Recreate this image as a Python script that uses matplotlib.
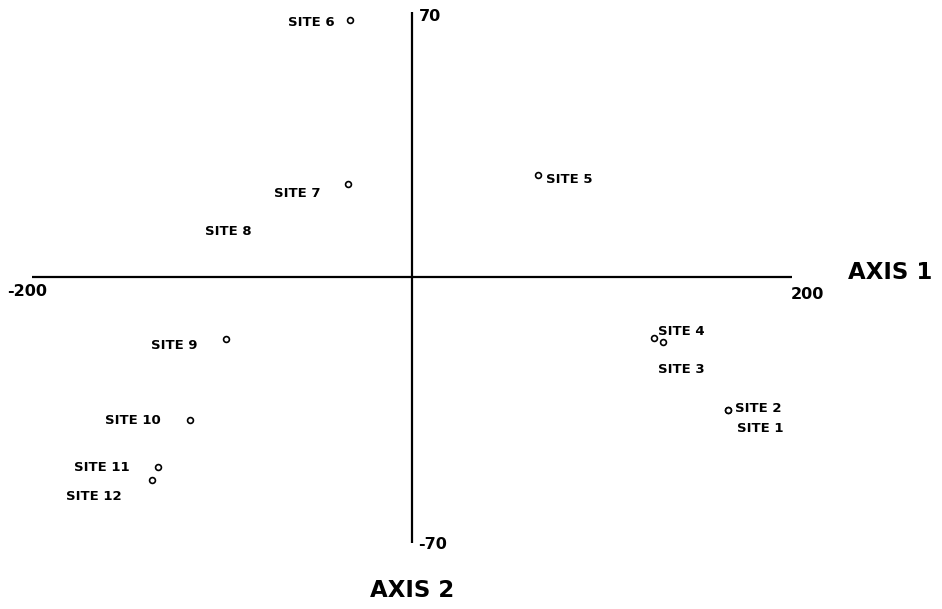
import matplotlib
matplotlib.use("Agg")
import matplotlib.pyplot as plt

# Ordination scores of the twelve sites on the first two axes
sites = ["SITE 1", "SITE 2", "SITE 3", "SITE 4", "SITE 5", "SITE 6",
         "SITE 7", "SITE 8", "SITE 9", "SITE 10", "SITE 11", "SITE 12"]
axis1 = [166.1, 166.1, 131.8, 127.1, 66.1, -32.9,
         -33.9, -77.0, -98.2, -117.1, -134.0, -137.1]
axis2 = [-35.0, -35.0, -17.0, -16.0, 27.0, 67.9,
         24.7, 13.0, -16.2, -37.6, -50.0, -53.4]
# site 8 is labelled without a symbol
show_marker = [True, True, True, True, True, True,
               True, False, True, True, True, True]

x_range = (-200, 200)
y_range = (-70, 70)

# label placement: (dx, dy) in pixels from the point, horizontal alignment
label_style = {
    "SITE 1": (9, -18, "left"),
    "SITE 2": (7, 2, "left"),
    "SITE 3": (-5, -28, "left"),
    "SITE 4": (4, 7, "left"),
    "SITE 5": (8, -4, "left"),
    "SITE 6": (-15, -2, "right"),
    "SITE 7": (-28, -10, "right"),
    "SITE 8": (-15, -3, "right"),
    "SITE 9": (-28, -7, "right"),
    "SITE 10": (-29, -1, "right"),
    "SITE 11": (-28, -1, "right"),
    "SITE 12": (-30, -17, "right"),
}

plt.rcParams["font.family"] = ["DejaVu Sans"]

fig = plt.figure(figsize=(9.42, 6.09), dpi=100)
ax = fig.add_axes([0, 0, 1, 1])
ax.set_xlim(-217.1, 278.7)
ax.set_ylim(-87.5, 73.2)
ax.axis("off")

# axes drawn as crossing lines through the origin
ax.plot(x_range, [0, 0], color="black", lw=1.6, solid_capstyle="butt")
ax.plot([0, 0], y_range, color="black", lw=1.6, solid_capstyle="butt")

tick_kw = dict(textcoords="offset pixels", fontsize=11.5, fontweight="bold",
               va="center")
ax.annotate(str(x_range[0]), (x_range[0], 0), xytext=(-5, -14), ha="center", **tick_kw)
ax.annotate(str(x_range[1]), (x_range[1], 0), xytext=(15, -17), ha="center", **tick_kw)
ax.annotate(str(y_range[1]), (0, y_range[1]), xytext=(6, -4), ha="left", **tick_kw)
ax.annotate(str(y_range[0]), (0, y_range[0]), xytext=(6, -2), ha="left", **tick_kw)

ax.annotate("AXIS 1", (x_range[1], 0), xytext=(56, 5), textcoords="offset pixels",
            ha="left", va="center", fontsize=16.5, fontweight="bold")
ax.annotate("AXIS 2", (0, y_range[0]), xytext=(0, -48), textcoords="offset pixels",
            ha="center", va="center", fontsize=16.5, fontweight="bold")

for name, x, y, m in zip(sites, axis1, axis2, show_marker):
    if m:
        ax.plot(x, y, "o", ms=4.2, mfc="white", mec="black", mew=1.2)
    dx, dy, ha = label_style[name]
    ax.annotate(name, (x, y), xytext=(dx, dy), textcoords="offset pixels",
                ha=ha, va="center", fontsize=9.5, fontweight="bold")

fig.savefig("out.png", dpi=100)
